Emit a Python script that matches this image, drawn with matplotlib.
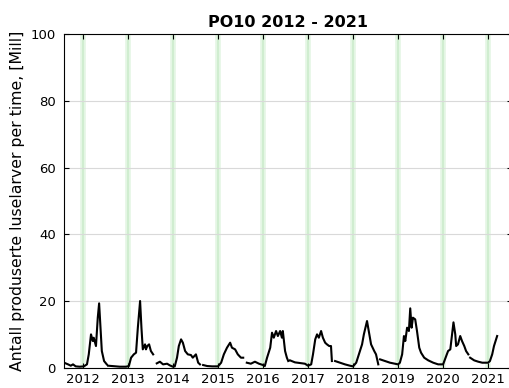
import numpy as np
import matplotlib.pyplot as plt

# decimal year, value (Mill); nan marks breaks in the series
t = [2011.60, 2011.67, 2011.73, 2011.78, 2011.84, 2011.93, 2012.02, 2012.09, 2012.13, 2012.18,
     2012.22, 2012.24, 2012.29, 2012.33, 2012.36, 2012.39, 2012.42, 2012.47, 2012.53, np.nan,
     2012.56, 2012.64, 2012.71, 2012.82, 2012.96, 2013.02, 2013.07, 2013.13, 2013.18, 2013.22,
     2013.27, 2013.30, 2013.33, 2013.38, 2013.40, 2013.43, 2013.47, 2013.51, 2013.56, np.nan,
     2013.64, 2013.71, 2013.78, 2013.87, 2013.93, 2014.00, 2014.04, 2014.09, 2014.13, 2014.18,
     2014.22, 2014.27, 2014.33, 2014.40, 2014.44, 2014.51, 2014.56, 2014.60, np.nan,
     2014.67, 2014.76, 2014.87, 2015.00, 2015.07, 2015.13, 2015.20, 2015.27, 2015.31, 2015.38,
     2015.44, 2015.51, 2015.56, np.nan,
     2015.64, 2015.73, 2015.82, 2015.91, 2016.00, 2016.04, 2016.09, 2016.16, 2016.20, 2016.24,
     2016.29, 2016.33, 2016.38, 2016.42, 2016.44, 2016.49, 2016.53, 2016.56, np.nan,
     2016.60, 2016.71, 2016.82, 2016.93, 2017.00, 2017.07, 2017.11, 2017.16, 2017.20, 2017.24,
     2017.29, 2017.33, 2017.38, 2017.42, 2017.47, 2017.51, 2017.53, np.nan,
     2017.60, 2017.71, 2017.82, 2017.93, 2018.00, 2018.07, 2018.13, 2018.20, 2018.24, 2018.31,
     2018.36, 2018.40, 2018.47, 2018.51, 2018.56, np.nan,
     2018.60, 2018.71, 2018.82, 2018.93, 2019.00, 2019.04, 2019.09, 2019.13, 2019.16, 2019.20,
     2019.24, 2019.27, 2019.30, 2019.33, 2019.38, 2019.42, 2019.47, 2019.51, 2019.58, 2019.67,
     2019.78, 2019.89, 2020.00, 2020.07, 2020.11, 2020.16, 2020.20, 2020.23, 2020.27, 2020.29,
     2020.33, 2020.38, 2020.42, 2020.47, 2020.51, 2020.56, np.nan,
     2020.60, 2020.69, 2020.78, 2020.87, 2020.93, 2021.00, 2021.04, 2021.09, 2021.13, 2021.20]
larver = [1.4, 1.0, 0.6, 1.0, 0.4, 0.3, 0.4, 1.0, 4.0, 10.0,
          8.0, 9.0, 6.5, 15.0, 19.3, 12.0, 5.0, 2.0, 1.0, np.nan,
          0.6, 0.5, 0.4, 0.3, 0.3, 0.5, 3.0, 4.0, 4.5, 12.0,
          20.0, 12.0, 5.5, 7.0, 5.5, 6.5, 7.0, 5.0, 4.0, np.nan,
          1.3, 1.8, 1.0, 1.2, 0.7, 0.3, 0.4, 3.0, 6.5, 8.5,
          7.5, 5.0, 4.0, 3.8, 3.0, 4.0, 1.5, 1.0, np.nan,
          0.8, 0.5, 0.4, 0.4, 1.5, 4.0, 6.0, 7.5, 6.0, 5.5,
          4.0, 3.0, 3.0, np.nan,
          1.5, 1.2, 1.8, 1.2, 0.8, 0.5, 3.0, 6.0, 10.5, 9.0,
          11.0, 9.5, 11.0, 9.0, 11.0, 5.0, 3.0, 2.0, np.nan,
          2.2, 1.6, 1.4, 1.2, 0.6, 1.0, 4.0, 8.5, 10.0, 9.0,
          11.0, 9.0, 7.5, 7.0, 6.5, 6.5, 2.0, np.nan,
          2.0, 1.5, 1.0, 0.6, 0.4, 1.5, 4.0, 7.0, 10.0, 14.0,
          10.0, 7.0, 5.0, 4.0, 1.0, np.nan,
          2.5, 2.0, 1.5, 1.2, 1.0, 1.5, 4.0, 9.5, 8.0, 12.0,
          11.0, 17.8, 12.0, 15.0, 14.5, 11.0, 6.0, 4.5, 3.0, 2.2,
          1.5, 1.0, 1.0, 3.5, 5.0, 5.5, 10.0, 13.6, 10.0, 6.5,
          7.0, 9.5, 8.0, 6.5, 5.0, 4.0, np.nan,
          3.0, 2.2, 1.8, 1.5, 1.5, 1.5, 2.0, 4.0, 6.5, 9.5]
years = list(range(2012, 2022))

fig = plt.figure(figsize=(5.1, 3.88), dpi=100)
ax = fig.add_axes([64/510, 20.3/388, 448/510, 333.4/388])

for yr in years:
    ax.axvline(yr, color='#e4f6e4', lw=4, zorder=0)
    ax.axvline(yr, color='#cdeccd', lw=1.2, zorder=0)
ax.plot(t, larver, color='k', lw=1.5)

ax.set_xlim(2011.58, 2021.53)
ax.set_ylim(0, 100)
ax.set_xticks(years)
ax.set_yticks([0, 20, 40, 60, 80, 100])
ax.yaxis.grid(True, color='0.85', lw=0.8)
ax.tick_params(direction='in', top=True, right=True, labelsize=9.5)
ax.tick_params(axis='y', pad=6)
ax.set_title('PO10 2012 - 2021', fontsize=11.5, fontweight='bold', pad=5)
ax.set_ylabel('Antall produserte luselarver per time, [Mill]', fontsize=11.3, labelpad=4)

fig.savefig('out.png', dpi=100)
